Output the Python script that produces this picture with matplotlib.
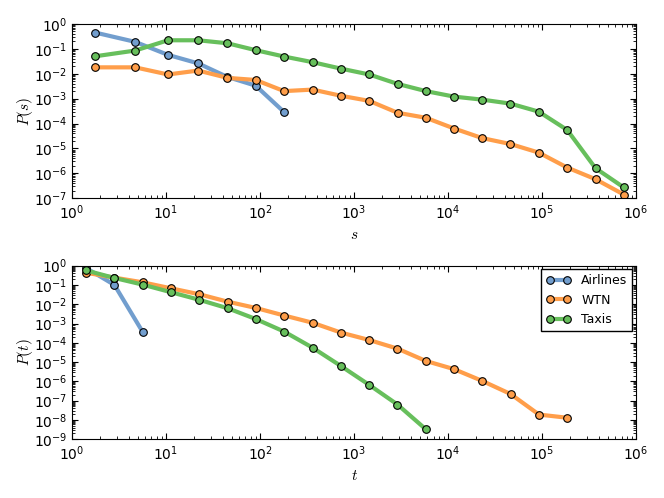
import matplotlib
matplotlib.use("Agg")
import matplotlib.pyplot as plt
from matplotlib.ticker import LogLocator, NullFormatter

plt.rcParams['mathtext.fontset'] = 'cm'
plt.rcParams['xtick.direction'] = 'in'
plt.rcParams['ytick.direction'] = 'in'
plt.rcParams['xtick.top'] = True
plt.rcParams['ytick.right'] = True
plt.rcParams['xtick.major.size'] = 4
plt.rcParams['ytick.major.size'] = 4
plt.rcParams['xtick.minor.size'] = 2
plt.rcParams['ytick.minor.size'] = 2

# size distribution P(s)
s_air = [1.76, 4.7, 10.5, 22, 45, 90, 180]
p_air = [0.45, 0.19, 0.057, 0.026, 0.0074, 0.0033, 2.9e-4]
s_bins = [1.76, 4.7, 10.5, 22, 45, 90, 180, 363, 725, 1450, 2900, 5800,
          11600, 23000, 46000, 92000, 185000, 370000, 740000]
p_wtn = [0.018, 0.018, 0.0093, 0.0134, 0.0068, 0.0056, 0.0020, 0.0023,
         0.0013, 8.1e-4, 2.7e-4, 1.7e-4, 6.3e-5, 2.6e-5, 1.5e-5, 6.8e-6,
         1.7e-6, 5.8e-7, 1.4e-7]
p_taxi = [0.050, 0.085, 0.22, 0.22, 0.167, 0.088, 0.049, 0.029,
          0.016, 0.0093, 0.0039, 0.0020, 0.0012, 9.1e-4, 6.3e-4, 3.0e-4,
          5.5e-5, 1.6e-6, 2.7e-7]

# duration distribution P(t)
t_bins = [1.41, 2.83, 5.66, 11.3, 22.6, 45.3, 90.5, 181, 362, 724, 1448,
          2896, 5793, 11585, 23170, 46341, 92682, 185364]
q_air = [0.76, 0.10, 3.6e-4]
q_wtn = [0.43, 0.24, 0.137, 0.067, 0.033, 0.0136, 0.0064, 0.0026, 0.0011,
         3.4e-4, 1.4e-4, 5.0e-5, 1.15e-5, 4.3e-6, 1.05e-6, 2.2e-7, 1.9e-8,
         1.3e-8]
q_taxi = [0.57, 0.23, 0.104, 0.042, 0.017, 0.0062, 0.0017, 3.8e-4, 5.6e-5,
          6.3e-6, 6.6e-7, 6.3e-8, 3.3e-9]

c_air = '#729ece'
c_wtn = '#ff9e4a'
c_taxi = '#67bf5c'

fig = plt.figure(figsize=(6.64, 4.98), dpi=100)
ax1 = fig.add_axes([0.1084, 0.602, 0.8496, 0.350])
ax2 = fig.add_axes([0.1084, 0.118, 0.8496, 0.3485])

style = dict(lw=3, marker='o', ms=5.5, mec='black', mew=0.8)

ax1.plot(s_air, p_air, color=c_air, mfc=c_air, label='Airlines', **style)
ax1.plot(s_bins, p_wtn, color=c_wtn, mfc=c_wtn, label='WTN', **style)
ax1.plot(s_bins, p_taxi, color=c_taxi, mfc=c_taxi, label='Taxis', **style)

ax2.plot(t_bins[:len(q_air)], q_air, color=c_air, mfc=c_air, label='Airlines', **style)
ax2.plot(t_bins, q_wtn, color=c_wtn, mfc=c_wtn, label='WTN', **style)
ax2.plot(t_bins[:len(q_taxi)], q_taxi, color=c_taxi, mfc=c_taxi, label='Taxis', **style)

for ax in (ax1, ax2):
    ax.set_xscale('log')
    ax.set_yscale('log')
    ax.set_xlim(1, 1e6)
    ax.tick_params(labelsize=10)
    ax.tick_params(which='both', top=True, right=True)

ax1.set_ylim(1e-7, 1)
ax2.set_ylim(1e-9, 1)
ax1.set_yticks([10.0**k for k in range(-7, 1)])
ax2.set_yticks([10.0**k for k in range(-9, 1)])
for ax in (ax1, ax2):
    ax.yaxis.set_minor_locator(LogLocator(base=10, subs=range(2, 10), numticks=100))
    ax.yaxis.set_minor_formatter(NullFormatter())
    ax.xaxis.set_minor_locator(LogLocator(base=10, subs=range(2, 10), numticks=100))
    ax.xaxis.set_minor_formatter(NullFormatter())

ax1.set_xlabel('$s$', fontsize=11)
ax1.set_ylabel('$P(s)$', fontsize=11, labelpad=-1)
ax2.set_xlabel('$t$', fontsize=11)
ax2.set_ylabel('$P(t)$', fontsize=11, labelpad=-1)

leg = ax2.legend(loc='upper right', fontsize=9, fancybox=False, framealpha=1,
                 numpoints=2, handlelength=2.0, borderaxespad=0.3)
leg.get_frame().set_edgecolor('black')

fig.savefig('out.png', dpi=100)
